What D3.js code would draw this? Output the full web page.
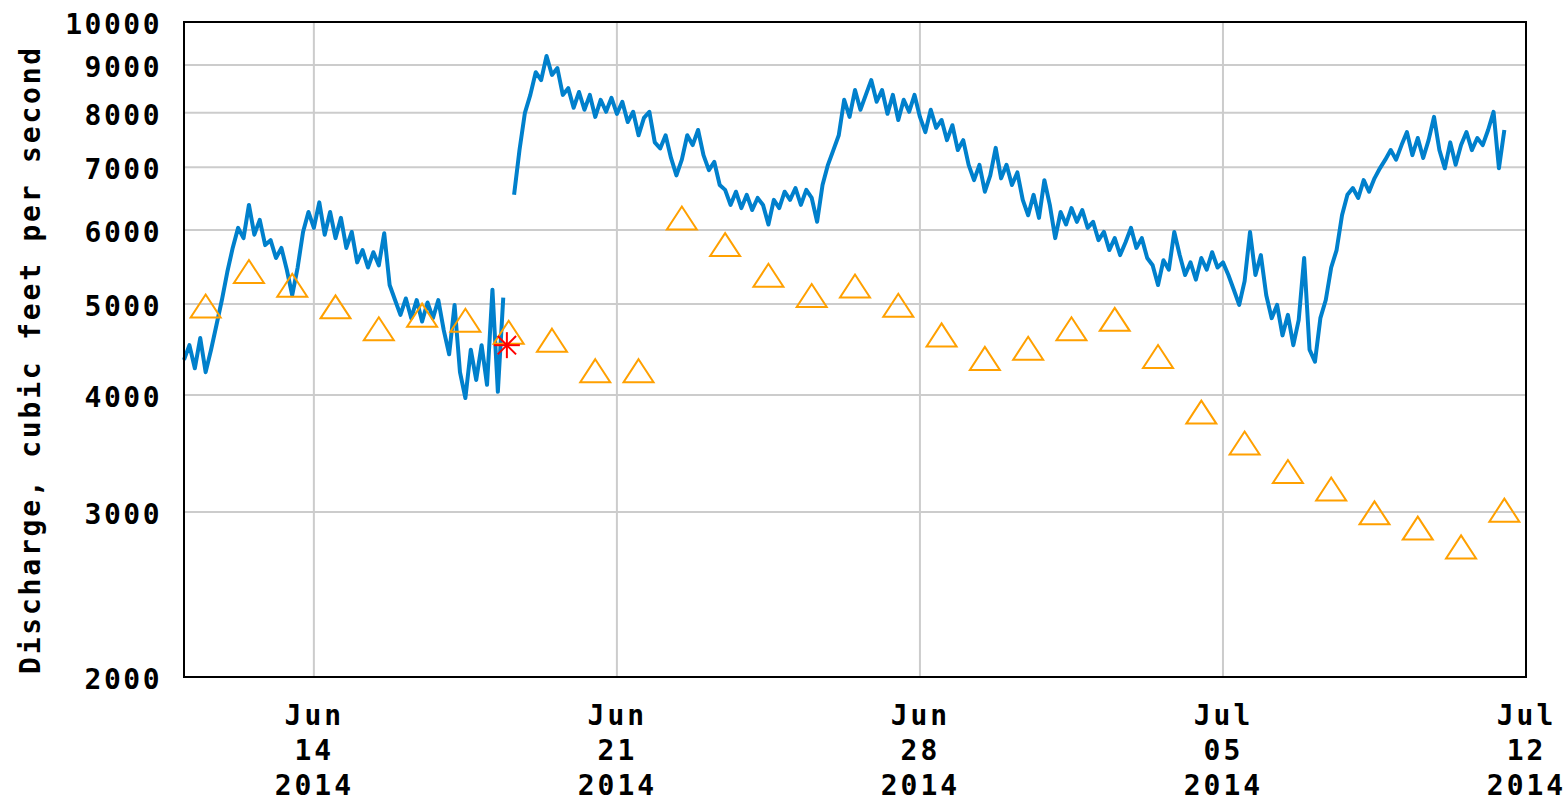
<!DOCTYPE html>
<html>
<head>
<meta charset="utf-8">
<script src="https://cdn.jsdelivr.net/npm/d3@7"></script>
<style>
body{margin:0;background:#fff;}
text{font-family:"DejaVu Sans Mono",monospace;font-weight:bold;fill:#000;}
</style>
</head>
<body>
<div id="grafico"></div>
<script>
const WIDTH = 1568;
const HEIGHT = 801;

// discharge, every 3 hours from Jun 11 2014 00:00 (null = gap)
const flowStart = Date.UTC(2014,5,11);
const flowStepHours = 3;
const flow = [
    4360,4520,4270,4600,4230,4470,4750,5050,
    5410,5740,6030,5880,6380,5930,6150,5780,
    5850,5600,5740,5440,5110,5470,5970,6270,
    6030,6420,5930,6270,5880,6180,5740,5970,
    5540,5710,5470,5680,5500,5950,5240,5050,
    4870,5070,4830,5050,4790,5020,4830,5050,
    4690,4420,4990,4230,3970,4470,4150,4520,
    4100,5180,4030,5080,null,6540,7300,8000,
    8360,8840,8670,9200,8780,8930,8360,8500,
    8100,8420,8060,8360,7920,8260,8020,8300,
    7980,8220,7820,8020,7570,7900,8020,7440,
    7330,7570,7160,6860,7130,7570,7390,7670,
    7210,6950,7090,6700,6620,6380,6590,6330,
    6540,6300,6490,6380,6080,6460,6330,6590,
    6460,6650,6380,6620,6490,6120,6700,7040,
    7300,7570,8260,7920,8460,8060,8360,8670,
    8220,8460,7980,8360,7860,8260,8020,8360,
    7920,7630,8060,7710,7860,7480,7760,7300,
    7480,7040,6780,7040,6590,6860,7340,6810,
    7040,6700,6910,6460,6220,6540,6180,6780,
    6380,5880,6270,6080,6330,6120,6300,6030,
    6120,5850,5970,5710,5880,5640,5820,6030,
    5740,5880,5600,5500,5240,5570,5440,5970,
    5640,5370,5540,5310,5600,5440,5680,5470,
    5540,5370,5180,4990,5290,5970,5370,5640,
    5110,4830,4990,4630,4870,4520,4810,5600,
    4470,4340,4830,5050,5470,5710,6220,6540,
    6650,6490,6780,6590,6810,6980,7130,7300,
    7130,7390,7630,7210,7520,7160,7480,7920,
    7300,6980,7440,7040,7390,7630,7300,7520,
    7390,7670,8020,6980,7670
];

// median daily statistic, Jun 11 .. Jul 11 (plotted at noon)
const medianStart = Date.UTC(2014,5,11,12);
const medians = [
    4970,5410,5230,4960,4700,4860,4800,4660,4570,4240,
    4240,6170,5780,5360,5100,5220,4980,4630,4370,4480,
    4700,4810,4390,3830,3550,3310,3170,2990,2880,2750,
    3010
];

// measured point
const measured = [{date:new Date(Date.UTC(2014,5,18,11)), value:4520}];

const yTicks = [2000,3000,4000,5000,6000,7000,8000,9000,10000];
const xTicks = [Date.UTC(2014,5,14),Date.UTC(2014,5,21),Date.UTC(2014,5,28),Date.UTC(2014,6,5),Date.UTC(2014,6,12)];
const xTickLines = [["Jun","14","2014"],["Jun","21","2014"],["Jun","28","2014"],["Jul","05","2014"],["Jul","12","2014"]];
const yTitle = "Discharge, cubic feet per second";

const margin = {left:184, right:42, top:22, bottom:124};
const plotW = WIDTH - margin.left - margin.right;
const plotH = HEIGHT - margin.top - margin.bottom;

let svg = d3.select("#grafico")
    .append("svg")
    .attr("width",WIDTH)
    .attr("height",HEIGHT);

let x = d3.scaleUtc()
    .domain([new Date(Date.UTC(2014,5,11)), new Date(Date.UTC(2014,6,12))])
    .range([margin.left, margin.left+plotW]);

let y = d3.scaleLog()
    .domain([2000,10000])
    .range([margin.top+plotH, margin.top]);

// grid
svg.append("g")
    .selectAll("line.hgrid")
    .data(yTicks.slice(1,-1))
    .enter()
    .append("line")
    .attr("x1",margin.left).attr("x2",margin.left+plotW)
    .attr("y1",d=>y(d)).attr("y2",d=>y(d))
    .style("stroke","#cccccc")
    .style("stroke-width",2);

svg.append("g")
    .selectAll("line.vgrid")
    .data(xTicks.slice(0,-1))
    .enter()
    .append("line")
    .attr("x1",d=>x(d)).attr("x2",d=>x(d))
    .attr("y1",margin.top).attr("y2",margin.top+plotH)
    .style("stroke","#cccccc")
    .style("stroke-width",2);

// discharge line
let flowData = flow.map((v,i)=>({date:new Date(flowStart + i*flowStepHours*3600000), value:v}));
let line = d3.line()
    .defined(d=>d.value !== null)
    .x(d=>x(d.date))
    .y(d=>y(d.value));

svg.append("path")
    .datum(flowData)
    .attr("d",line)
    .style("fill","none")
    .style("stroke","#0080cc")
    .style("stroke-width",4)
    .style("stroke-linejoin","round");

// medians
let medianData = medians.map((v,i)=>({date:new Date(medianStart + i*86400000), value:v}));
svg.append("g")
    .selectAll("path.median")
    .data(medianData)
    .enter()
    .append("path")
    .attr("class","median")
    .attr("transform",d=>"translate("+x(d.date)+","+y(d.value)+")")
    .attr("d","M0,-12L15,11L-15,11Z")
    .style("fill","none")
    .style("stroke","#ffa000")
    .style("stroke-width",2);

// measurement asterisk
let star = svg.append("g")
    .selectAll("g.star")
    .data(measured)
    .enter()
    .append("g")
    .attr("transform",d=>"translate("+x(d.date)+","+y(d.value)+")");
[0,45,90,135].forEach(a=>{
    star.append("line")
        .attr("x1",-13).attr("x2",13)
        .attr("y1",0).attr("y2",0)
        .attr("transform","rotate("+a+")")
        .style("stroke","#ff0000")
        .style("stroke-width",2);
});

// frame
svg.append("rect")
    .attr("x",margin.left).attr("y",margin.top)
    .attr("width",plotW).attr("height",plotH)
    .style("fill","none")
    .style("stroke","#000")
    .style("stroke-width",2);

// y axis
let yAxis = d3.axisLeft(y)
    .tickValues(yTicks)
    .tickFormat(d3.format("d"))
    .tickSize(0)
    .tickPadding(22);
let yg = svg.append("g")
    .attr("transform","translate("+margin.left+",0)")
    .call(yAxis);
yg.select(".domain").remove();
yg.selectAll("text")
    .attr("dy","0.42em")
    .style("font-size","28px")
    .style("font-family","DejaVu Sans Mono")
    .style("font-weight","bold")
    .style("letter-spacing","2.5px");

// x axis
let xAxis = d3.axisBottom(x)
    .tickValues(xTicks.map(t=>new Date(t)))
    .tickSize(0)
    .tickFormat("");
let xg = svg.append("g")
    .attr("transform","translate(0,"+(margin.top+plotH)+")")
    .call(xAxis);
xg.select(".domain").remove();
xg.selectAll(".tick text")
    .each(function(d,i){
        let t = d3.select(this)
            .attr("y",0)
            .attr("dy",null)
            .style("font-size","28px")
            .style("font-family","DejaVu Sans Mono")
            .style("font-weight","bold")
            .style("letter-spacing","3px");
        xTickLines[i].forEach((s,j)=>{
            t.append("tspan")
                .attr("x",0)
                .attr("y",48+j*35)
                .text(s);
        });
    });

// y title
svg.append("text")
    .attr("transform","translate(40,"+(margin.top+plotH/2+10)+") rotate(-90)")
    .attr("text-anchor","middle")
    .style("font-size","28px")
    .style("letter-spacing","2.8px")
    .text(yTitle);
</script>
</body>
</html>
